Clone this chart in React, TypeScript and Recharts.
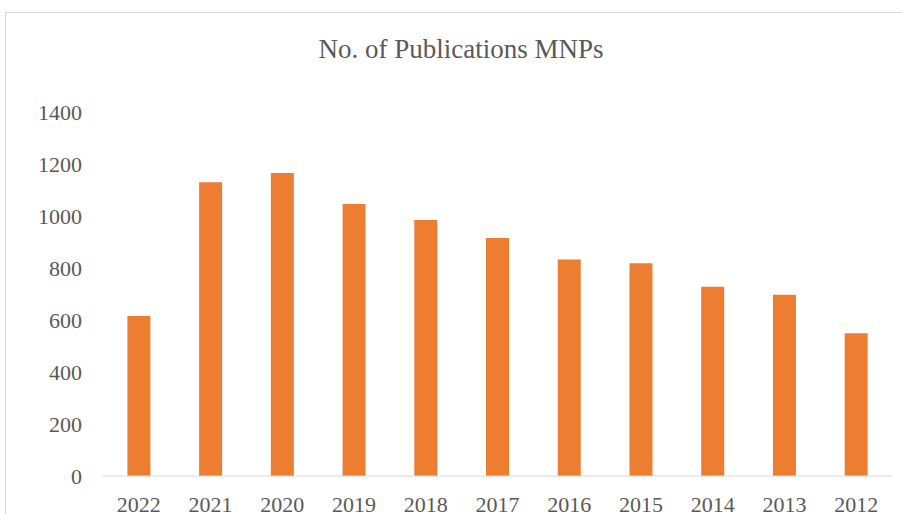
import React from "react"
import { BarChart, Bar, XAxis, YAxis } from "recharts"

const years = ["2022", "2021", "2020", "2019", "2018", "2017", "2016", "2015", "2014", "2013", "2012"]
const publications = [615, 1130, 1165, 1046, 985, 915, 833, 818, 728, 697, 549]
const yTicks = [0, 200, 400, 600, 800, 1000, 1200, 1400]

const chartData = years.map((year, i) => ({ year, count: publications[i] }))

const font = "Liberation Serif, Times New Roman, DejaVu Serif, serif"
const textColor = "#595959"

const App: React.FC = () => {
  return (
    <div style={{ position: "fixed", left: 0, top: 0, width: 902, height: 514, overflow: "hidden", background: "#fff" }}>
      <div
        style={{
          position: "absolute",
          left: 5,
          top: 12,
          width: 920,
          height: 540,
          border: "1px solid #d9d9d9",
        }}
      />
      <div
        style={{
          position: "absolute",
          left: 0,
          top: 34,
          width: 922,
          textAlign: "center",
          fontFamily: font,
          fontSize: 27,
          color: textColor,
          lineHeight: "30px",
          whiteSpace: "nowrap",
        }}
      >
        No. of Publications MNPs
      </div>
      <div style={{ position: "absolute", left: 0, top: 0 }}>
        <BarChart
          width={902}
          height={514}
          data={chartData}
          barCategoryGap="34%"
          margin={{ top: 112, right: 10, left: 0, bottom: 0 }}
        >
          <XAxis
            dataKey="year"
            height={38}
            tickSize={0}
            tickMargin={20}
            axisLine={{ stroke: "#d9d9d9" }}
            tick={{ fill: textColor, fontSize: 22, fontFamily: font }}
            interval={0}
          />
          <YAxis
            width={103}
            domain={[0, 1400]}
            ticks={yTicks}
            interval={0}
            axisLine={false}
            tickSize={0}
            tickMargin={21}
            tick={{ fill: textColor, fontSize: 22, fontFamily: font }}
          />
          <Bar dataKey="count" fill="#ED7D31" isAnimationActive={false} />
        </BarChart>
      </div>
    </div>
  )
}

export default App
